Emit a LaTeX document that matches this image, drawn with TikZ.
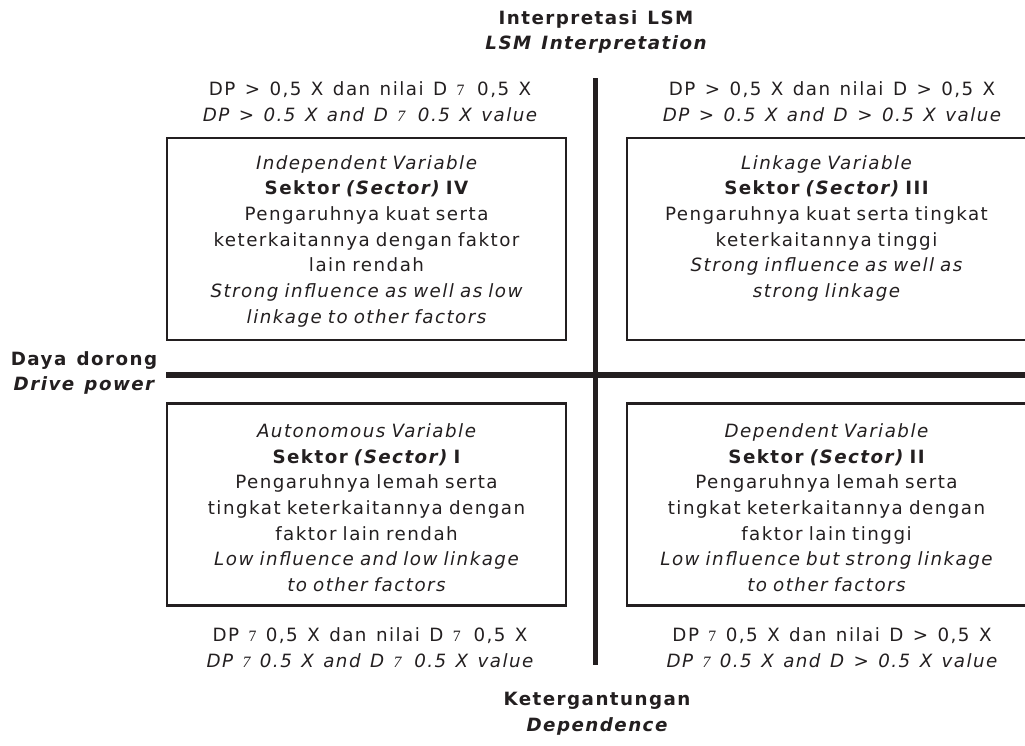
\documentclass[tikz,border=0pt]{standalone}
\usepackage{fontspec}
\setmainfont{DejaVu Sans}[LetterSpace=8, WordSpace=1.3]
\newfontfamily\glyphfont{Liberation Serif}
\usetikzlibrary{positioning}

\definecolor{inkgray}{HTML}{231F20}
% broken comparison sign as it is printed
\newcommand{\badsym}{{\glyphfont\fontsize{9}{9}\selectfont 7}}

\begin{document}
\begin{tikzpicture}[x=0.02cm, y=-0.02cm,
    every node/.style={text=inkgray},
    txt/.style={font=\fontsize{10.4}{14.6}\selectfont, align=center, inner sep=0pt},
    sectorbox/.style={draw=inkgray, line width=1.3pt, minimum width=7.97cm,
        minimum height=4.04cm, inner sep=0pt},
    sectortext/.style={txt, text width=7.7cm},
    axisline/.style={draw=inkgray, line width=3.3pt}]
    \useasboundingbox (0,0) rectangle (1025,745);

    % Axes
    \coordinate (vtop) at (595.5,78);
    \coordinate (vbot) at (595.5,665);
    \coordinate (hleft) at (166,375);
    \coordinate (hright) at (1025,375);
    \draw[axisline] (vtop) -- (vbot);
    \draw[axisline] (hleft) -- (hright);

    % Axis titles
    \node[txt] (ttop) at (596,32) {{\bfseries Interpretasi LSM}\\ {\bfseries\itshape LSM Interpretation}};
    \node[txt] (tbot) at (597,714) {{\bfseries Ketergantungan}\\ {\bfseries\itshape Dependence}};
    \node[txt] (tleft) at (84,373) {{\bfseries Daya dorong}\\ {\bfseries\itshape Drive power}};

    % Sectors
    \node[sectorbox] (s4) at (366.5,239) {};
    \node[sectortext, below=0.36cm of s4.north] (s4txt) {{\itshape Independent Variable}\\
        {\bfseries Sektor {\itshape (Sector)} IV}\\
        Pengaruhnya kuat serta\\ keterkaitannya dengan faktor\\ lain rendah\\
        {\itshape Strong influence as well as low}\\ {\itshape linkage to other factors}};

    \node[sectorbox] (s3) at (826.5,239) {};
    \node[sectortext, below=0.36cm of s3.north] (s3txt) {{\itshape Linkage Variable}\\
        {\bfseries Sektor {\itshape (Sector)} III}\\
        Pengaruhnya kuat serta tingkat\\ keterkaitannya tinggi\\
        {\itshape Strong influence as well as}\\ {\itshape strong linkage}};

    \node[sectorbox] (s1) at (366.5,504.5) {};
    \node[sectortext, below=0.42cm of s1.north] (s1txt) {{\itshape Autonomous Variable}\\
        {\bfseries Sektor {\itshape (Sector)} I}\\
        Pengaruhnya lemah serta\\ tingkat keterkaitannya dengan\\ faktor lain rendah\\
        {\itshape Low influence and low linkage}\\ {\itshape to other factors}};

    \node[sectorbox] (s2) at (826.5,504.5) {};
    \node[sectortext, below=0.42cm of s2.north] (s2txt) {{\itshape Dependent Variable}\\
        {\bfseries Sektor {\itshape (Sector)} II}\\
        Pengaruhnya lemah serta\\ tingkat keterkaitannya dengan\\ faktor lain tinggi\\
        {\itshape Low influence but strong linkage}\\ {\itshape to other factors}};

    % Conditions
    \node[txt] (c4) at (370,102) {DP > 0,5 X dan nilai D \badsym\hspace{0.7em}0,5 X\\
        {\itshape DP > 0.5 X and D \badsym\hspace{0.7em}0.5 X value}};
    \node[txt] (c3) at (832,102) {DP > 0,5 X dan nilai D > 0,5 X\\
        {\itshape DP > 0.5 X and D > 0.5 X value}};
    \node[txt] (c1) at (370,648) {DP \badsym\ 0,5 X dan nilai D \badsym\hspace{0.7em}0,5 X\\
        {\itshape DP \badsym\ 0.5 X and D \badsym\hspace{0.7em}0.5 X value}};
    \node[txt] (c2) at (832,648) {DP \badsym\ 0,5 X dan nilai D > 0,5 X\\
        {\itshape DP \badsym\ 0.5 X and D > 0.5 X value}};
\end{tikzpicture}
\end{document}
